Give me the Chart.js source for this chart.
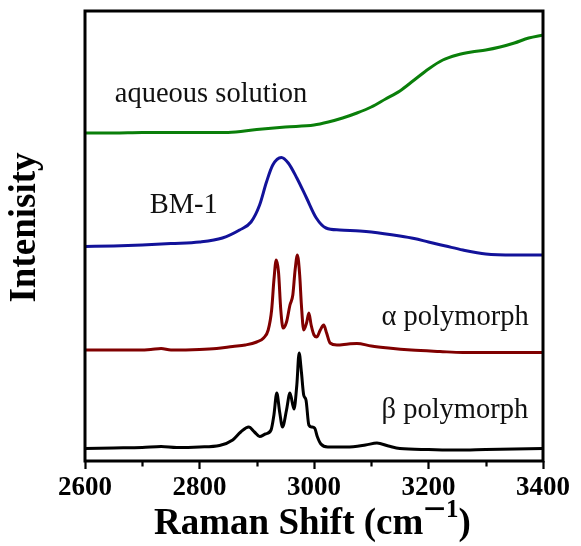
<!DOCTYPE html>
<html>
<head>
<meta charset="utf-8">
<script src="https://cdn.jsdelivr.net/npm/chart.js@4"></script>
<style>
html,body{margin:0;padding:0;background:#fff;}
canvas{display:block;}
</style>
</head>
<body>
<canvas id="c" width="581" height="546"></canvas>
<script>
// ---- data (Raman shift, cm^-1 ; stacked intensity, arbitrary units) ----
const aqueousX = [2600,2650,2700,2750,2800,2850,2900,2950,3000,3025,3050,3075,3100,3125,3150,3175,3200,3225,3250,3275,3300,3325,3350,3375,3400];
const aqueousY = [328,328,328.5,328.5,328.5,328.5,331.5,334,336,339,343,348,354,362,370,381,392,401,406,409,411,414,418,423,426];

const bm1X = [2600,2650,2700,2750,2800,2840,2870,2890,2905,2917,2928,2943,2955,2970,2987,3004,3021,3045,3080,3100,3150,3175,3200,3230,3260,3300,3350,3400];
const bm1Y = [214.5,215,216,217.5,219,223,231,239,256,279,296,303.5,298,283,263,243,233,231,230,229,225,222.5,219,215,211,207,206,206];

const alphaX = [2600,2650,2695,2715,2733,2750,2800,2830,2858,2880,2900,2912,2920,2926,2930,2934,2938,2942,2946,2952,2958,2963,2967,2971,2975,2978,2982,2987,2991,2995,3000,3005,3011,3017,3022,3028,3040,3060,3075,3100,3130,3170,3220,3260,3400];
const alphaY = [111,111,111,111.5,112.5,111,111.5,112.5,114.5,116,119,123,131,151,181,201,189,151,133,139,156,166,191,206,186,156,131,138,148,136,126,124,131,136,128,118,116,117,117.5,115,113,111,109.5,108.5,108.5];

const betaX = [2600,2650,2700,2733,2760,2800,2835,2858,2872,2886,2896,2905,2915,2925,2930,2935,2940,2945,2952,2958,2965,2970,2974,2978,2982,2986,2991,2996,3001,3006,3012,3024,3057,3090,3110,3130,3150,3200,3250,3300,3350,3400];
const betaY = [12.5,13,13.5,14.5,13.5,14,15.5,21,29,34,29,24.5,27,31,46,68,49,34,51,68,52,76,108,89,66,61,36,34,33,24,17,14,14,16,18,15,12.5,11.5,11,11.5,12,12.5];

const seriesNames = ['aqueous solution','BM-1','α polymorph','β polymorph'];
const xMajorTicks = [2600,2800,3000,3200,3400];
const xMinorTicks = [2700,2900,3100,3300];

const pts = (xs, ys) => xs.map((v,i)=>({x:v, y:ys[i]}));

// label anchor positions (data coords)
const labelPos = [
  {x:2652, y:359.3},
  {x:2713, y:248.3},
  {x:3118, y:136},
  {x:3118, y:43}
];

const SERIF = '"Liberation Serif","Times New Roman",serif';

const deco = {
  id:'deco',
  afterDraw(chart){
    const {ctx, chartArea:a, scales:{x,y}} = chart;
    ctx.save();
    ctx.strokeStyle='#000';
    ctx.lineWidth=3;
    ctx.strokeRect(a.left, a.top, a.right-a.left, a.bottom-a.top);
    // minor ticks
    ctx.lineWidth=2.2;
    xMinorTicks.forEach(v=>{
      const px = Math.round(x.getPixelForValue(v))+0.5;
      ctx.beginPath(); ctx.moveTo(px, a.bottom); ctx.lineTo(px, a.bottom+5.5); ctx.stroke();
    });
    // series labels
    ctx.fillStyle='#111';
    ctx.font = '28.5px '+SERIF;
    ctx.textAlign='left'; ctx.textBaseline='alphabetic';
    seriesNames.forEach((n,i)=>{
      ctx.fillText(n, x.getPixelForValue(labelPos[i].x), y.getPixelForValue(labelPos[i].y));
    });
    // y title
    ctx.save();
    ctx.font = 'bold 37px '+SERIF;
    ctx.fillStyle='#000';
    ctx.translate(35, 227.5);
    ctx.rotate(-Math.PI/2);
    ctx.textAlign='center';
    ctx.fillText('Intenisity', 0, 0);
    ctx.restore();
    // x title with superscript
    const base = 'Raman Shift (cm';
    ctx.font = 'bold 37px '+SERIF;
    const w1 = ctx.measureText(base).width;
    ctx.font = 'bold 40px '+SERIF;
    const wm = ctx.measureText('−').width;
    ctx.font = 'bold 25px '+SERIF;
    const w1b = ctx.measureText('1').width;
    ctx.font = 'bold 37px '+SERIF;
    const wp = ctx.measureText(')').width;
    const total = w1 + wm + w1b + wp;
    let sx = 312.5 - total/2;
    const by = 534;
    ctx.textAlign='left';
    ctx.fillStyle='#000';
    ctx.font = 'bold 37px '+SERIF; ctx.fillText(base, sx, by); sx += w1;
    ctx.font = 'bold 40px '+SERIF; ctx.fillText('−', sx, by-12); sx += wm;
    ctx.font = 'bold 25px '+SERIF; ctx.fillText('1', sx, by-17); sx += w1b;
    ctx.font = 'bold 37px '+SERIF; ctx.fillText(')', sx, by);
    ctx.restore();
  }
};

const ds = (label, xs, ys, color) => ({
  label, data: pts(xs, ys), borderColor: color, backgroundColor: color,
  borderWidth: 3, pointRadius: 0, fill: false,
  cubicInterpolationMode: 'monotone'
});

new Chart(document.getElementById('c'), {
  type: 'line',
  data: {
    datasets: [
      ds(seriesNames[0], aqueousX, aqueousY, '#0a7f0a'),
      ds(seriesNames[1], bm1X, bm1Y, '#12129a'),
      ds(seriesNames[2], alphaX, alphaY, '#800000'),
      ds(seriesNames[3], betaX, betaY, '#000000')
    ]
  },
  options: {
    responsive: false,
    animation: false,
    devicePixelRatio: 1,
    layout: { padding: { left: 85, right: 38, top: 11, bottom: 0 } },
    plugins: { legend: { display: false }, tooltip: { enabled: false } },
    scales: {
      x: {
        type: 'linear', min: 2600, max: 3400,
        afterBuildTicks: (s) => { s.ticks = xMajorTicks.map(v=>({value:v})); },
        afterFit: (s) => { s.height = 85; },
        border: { display: false },
        grid: { display: true, drawOnChartArea: false, drawTicks: true, tickLength: 8, tickWidth: 2.2, tickColor: '#000' },
        ticks: { color: '#000', padding: 3, font: { family: SERIF, size: 27, weight: 'bold' }, maxRotation: 0,
                 callback: (v) => String(v) }
      },
      y: { type: 'linear', min: 0, max: 450, display: false }
    }
  },
  plugins: [deco]
});
</script>
</body>
</html>
